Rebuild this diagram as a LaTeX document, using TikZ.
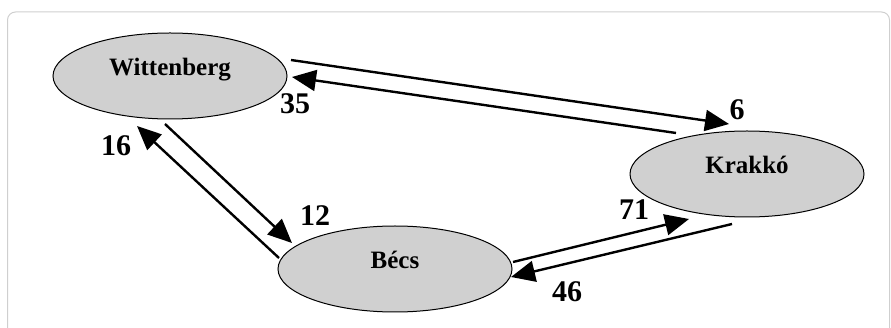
\documentclass[tikz,border=0pt]{standalone}
\usepackage{fontspec}
\setmainfont{Liberation Serif}
\usetikzlibrary{shapes.geometric,arrows.meta}
\definecolor{cityfill}{HTML}{D0D0D0}
\definecolor{framegray}{HTML}{CFCFCF}
\tikzset{
  city/.style={ellipse, draw=black, fill=cityfill, line width=1pt, minimum width=234pt, minimum height=86pt, inner sep=0pt, text height=12pt, text depth=12pt, font=\fontsize{25pt}{25pt}\selectfont\bfseries},
  flow/.style={line width=2.4pt, -{Triangle[length=24pt,width=21pt]}},
  num/.style={inner sep=0pt, font=\fontsize{30pt}{30pt}\selectfont\bfseries}
}
\begin{document}
\begin{tikzpicture}[x=1pt,y=-1pt]
\useasboundingbox (0,0) rectangle (891,328);
\clip (0,0) rectangle (891,328);
\draw[framegray, line width=1pt, rounded corners=8pt] (7.5,12) rectangle (889.5,345);
\node[city] (W) at (170,76) {Wittenberg};
\node[city] (B) at (395,269) {Bécs};
\node[city] (K) at (747,174) {Krakkó};
% endpoints
\coordinate (wk1) at (291,60);
\coordinate (wk2) at (729,124);
\coordinate (kw1) at (676,133);
\coordinate (kw2) at (292,77);
\coordinate (wb1) at (165,124);
\coordinate (wb2) at (292,243);
\coordinate (bw1) at (279,258);
\coordinate (bw2) at (137,126);
\coordinate (bk1) at (513,262);
\coordinate (bk2) at (689,219);
\coordinate (kb1) at (732,224);
\coordinate (kb2) at (511,277);
\draw[flow] (wk1) -- (wk2);
\draw[flow] (kw1) -- (kw2);
\draw[flow] (wb1) -- (wb2);
\draw[flow] (bw1) -- (bw2);
\draw[flow] (bk1) -- (bk2);
\draw[flow] (kb1) -- (kb2);
\node[num] (n35) at (295,104) {35};
\node[num] (n6) at (737,110) {6};
\node[num] (n16) at (116,146) {16};
\node[num] (n12) at (315,216) {12};
\node[num] (n71) at (634,210) {71};
\node[num] (n46) at (567,292) {46};
\end{tikzpicture}
\end{document}
